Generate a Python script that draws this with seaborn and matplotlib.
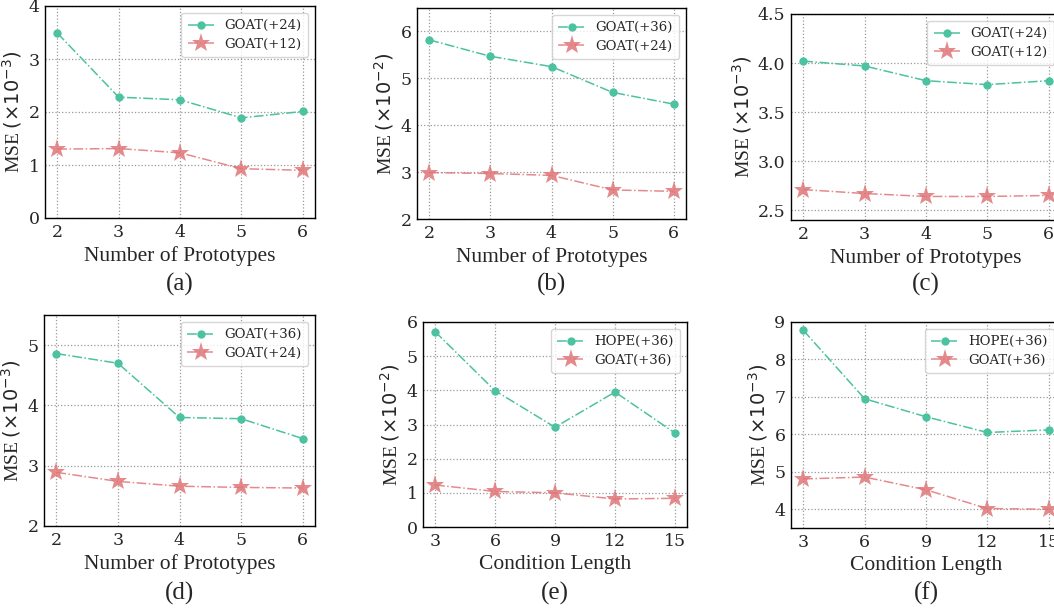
import matplotlib
matplotlib.use("Agg")
import matplotlib.pyplot as plt
import seaborn as sns
import pandas as pd

# ======================
# DATA
# ======================
protos = [2, 3, 4, 5, 6]
cond_len = [3, 6, 9, 12, 15]

a_goat24 = [3.49, 2.28, 2.23, 1.89, 2.01]
a_goat12 = [1.30, 1.31, 1.23, 0.93, 0.90]

b_goat36 = [5.82, 5.47, 5.25, 4.70, 4.45]
b_goat24 = [2.99, 2.97, 2.93, 2.62, 2.59]

c_goat24 = [4.02, 3.97, 3.82, 3.78, 3.82]
c_goat12 = [2.71, 2.67, 2.64, 2.64, 2.65]

d_goat36 = [4.86, 4.70, 3.80, 3.78, 3.45]
d_goat24 = [2.89, 2.74, 2.66, 2.64, 2.63]

e_hope36 = [5.72, 3.99, 2.92, 3.95, 2.75]
e_goat36 = [1.23, 1.04, 1.00, 0.82, 0.84]

f_hope36 = [8.78, 6.95, 6.47, 6.05, 6.12]
f_goat36 = [4.81, 4.86, 4.52, 4.02, 4.00]

TEAL = "#4cc2a0"
RED = "#e07678"

W, H = 1054, 613

sns.set_theme(style="whitegrid")
plt.rcParams["font.family"] = "DejaVu Serif"
plt.rcParams["mathtext.fontset"] = "dejavusans"

fig = plt.figure(figsize=(W / 100, H / 100), dpi=100)


def make_ax(left, top, right, bottom):
    return fig.add_axes([left / W, (H - bottom) / H, (right - left) / W, (bottom - top) / H])


def draw_panel(ax, x, top_vals, bot_vals, top_name, bot_name, ylim, yticks, exp, xlabel, caption, cap_y):
    df = pd.DataFrame({"x": x, "top": top_vals, "bot": bot_vals})
    sns.lineplot(data=df, x="x", y="top", ax=ax, color=TEAL, marker="o", markersize=6,
                 markeredgewidth=0, linestyle="-.", linewidth=1.1, label=top_name)
    sns.lineplot(data=df, x="x", y="bot", ax=ax, color=RED, marker="*", markersize=14,
                 markeredgewidth=0, linestyle="-.", linewidth=1.1, alpha=0.85, label=bot_name)
    ax.set_ylim(*ylim)
    ax.set_yticks(yticks)
    ax.set_xticks(x)
    ax.tick_params(labelsize=12.5, length=0, pad=4)
    ax.grid(True, linestyle=":", color="#999999", linewidth=0.9)
    for s in ax.spines.values():
        s.set_edgecolor("black")
        s.set_linewidth(1.0)
    ax.set_xlabel(xlabel, fontsize=15.5, family="Liberation Serif", labelpad=4)
    ax.set_ylabel("MSE $(\\times10^{%d})$" % exp, fontsize=14, family="Liberation Serif", labelpad=3)
    ax.legend(loc="upper right", fontsize=9.5, frameon=True, edgecolor="#cccccc",
              fancybox=True, handlelength=2.0, borderpad=0.5, labelspacing=0.4)
    pos = ax.get_position()
    fig.text(pos.x0 + pos.width / 2, 1 - cap_y / H, caption, ha="center", va="center",
             fontsize=18, family="Liberation Serif")


ax = make_ax(45, 6, 315, 218)
draw_panel(ax, protos, a_goat24, a_goat12, "GOAT(+24)", "GOAT(+12)", (0, 4), [0, 1, 2, 3, 4], -3,
           "Number of Prototypes", "(a)", 284)

ax = make_ax(417, 8, 686, 219)
draw_panel(ax, protos, b_goat36, b_goat24, "GOAT(+36)", "GOAT(+24)", (2, 6.5), [2, 3, 4, 5, 6], -2,
           "Number of Prototypes", "(b)", 284)

ax = make_ax(791, 14, 1061, 220)
draw_panel(ax, protos, c_goat24, c_goat12, "GOAT(+24)", "GOAT(+12)", (2.4, 4.5), [2.5, 3.0, 3.5, 4.0, 4.5], -3,
           "Number of Prototypes", "(c)", 284)

ax = make_ax(44, 315, 315, 526)
draw_panel(ax, protos, d_goat36, d_goat24, "GOAT(+36)", "GOAT(+24)", (2, 5.5), [2, 3, 4, 5], -3,
           "Number of Prototypes", "(d)", 593)

ax = make_ax(423, 322, 687, 527)
draw_panel(ax, cond_len, e_hope36, e_goat36, "HOPE(+36)", "GOAT(+36)", (0, 6), [0, 1, 2, 3, 4, 5, 6], -2,
           "Condition Length", "(e)", 593)

ax = make_ax(791, 322, 1061, 528)
draw_panel(ax, cond_len, f_hope36, f_goat36, "HOPE(+36)", "GOAT(+36)", (3.5, 9), [4, 5, 6, 7, 8, 9], -3,
           "Condition Length", "(f)", 593)

fig.savefig("out.png", dpi=100)
